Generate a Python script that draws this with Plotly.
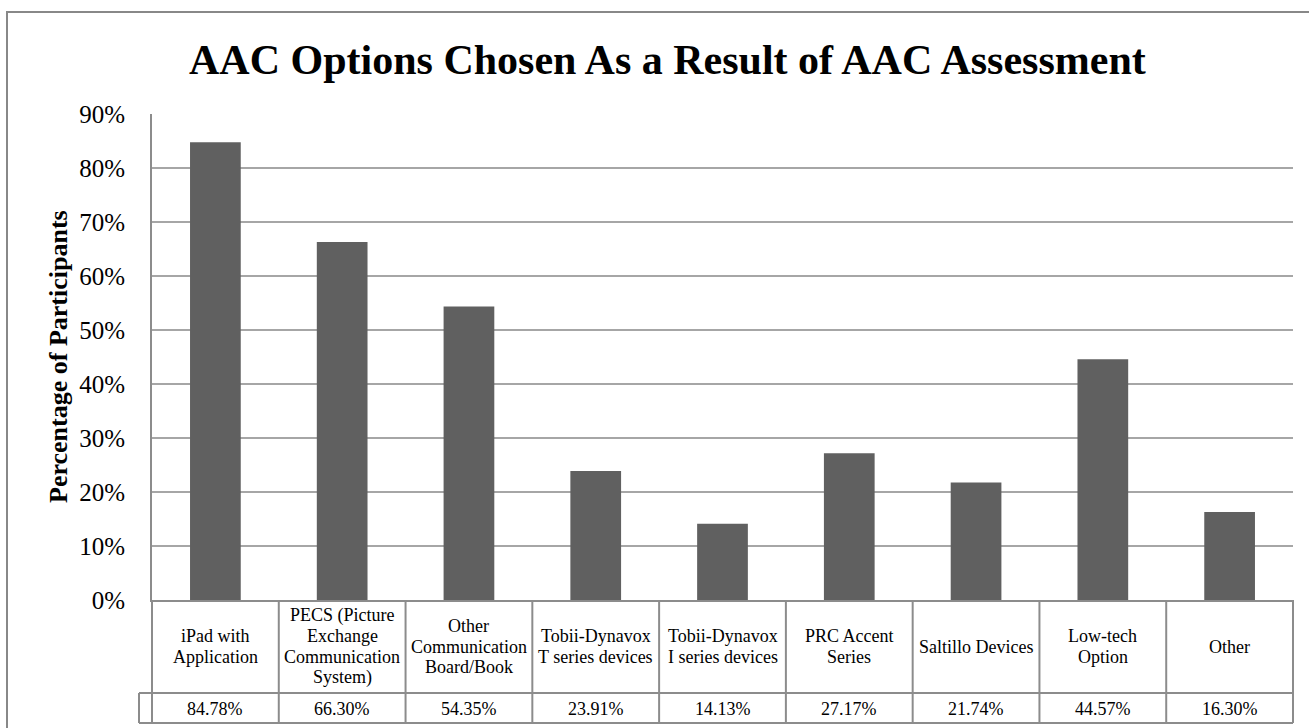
import plotly.graph_objects as go

# ---- data ----
categories = [
    "iPad with<br>Application",
    "PECS (Picture<br>Exchange<br>Communication<br>System)",
    "Other<br>Communication<br>Board/Book",
    "Tobii-Dynavox<br>T series devices",
    "Tobii-Dynavox<br>I series devices",
    "PRC Accent<br>Series",
    "Saltillo Devices",
    "Low-tech<br>Option",
    "Other",
]
values = [84.78, 66.30, 54.35, 23.91, 14.13, 27.17, 21.74, 44.57, 16.30]
title_text = "AAC Options Chosen As a Result of AAC Assessment"
y_title = "Percentage of Participants"
y_ticks = [0, 10, 20, 30, 40, 50, 60, 70, 80, 90]
y_tick_labels = [f"{t}%" for t in y_ticks]

# ---- layout geometry (pixels) ----
W, H = 1309, 728
L, R, T, B = 152, 16, 114, 128
PW, PH = W - L - R, H - T - B
FONT = "Liberation Serif, Times New Roman, serif"
GRID = "#a6a6a6"
LINE = "#8c8c8c"
TABLE_SIZE = 18
LINE_PITCH = 20.5


def px_x(p):
    return (p - L) / PW


def px_y(p):
    return (H - B - p) / PH


fig = go.Figure()
fig.add_trace(go.Bar(
    x=categories, y=values,
    marker=dict(color="#606060", line=dict(width=0)),
    width=0.4,
    hoverinfo="x+y",
))

shapes = []
annotations = []

# outer chart border
shapes.append(dict(type="rect", xref="paper", yref="paper",
                   x0=px_x(7), x1=px_x(1312), y0=px_y(731), y1=px_y(12),
                   line=dict(color="#888888", width=2), fillcolor="rgba(0,0,0,0)", layer="below"))

# data table grid
n = len(categories)
row1_bottom = px_y(693)
row2_bottom = px_y(723)
for i in range(n + 1):
    shapes.append(dict(type="line", xref="x domain", yref="paper",
                       x0=i / n, x1=i / n, y0=0, y1=row2_bottom,
                       line=dict(color=LINE, width=2)))
for yy in (row1_bottom, row2_bottom):
    shapes.append(dict(type="line", xref="paper", yref="paper",
                       x0=px_x(139), x1=1, y0=yy, y1=yy,
                       line=dict(color=LINE, width=2)))
shapes.append(dict(type="line", xref="paper", yref="paper",
                   x0=px_x(139), x1=px_x(139), y0=row1_bottom, y1=row2_bottom,
                   line=dict(color=LINE, width=2)))

for c, v in zip(categories, values):
    parts = c.split("<br>")
    m = len(parts)
    for k, part in enumerate(parts):
        yc = 646.5 + (k - (m - 1) / 2) * LINE_PITCH
        annotations.append(dict(xref="x", yref="paper", x=c, y=px_y(yc),
                                text=part, showarrow=False, yanchor="middle",
                                font=dict(family=FONT, size=TABLE_SIZE, color="black")))
    annotations.append(dict(xref="x", yref="paper", x=c, y=px_y(708.5),
                            text=f"{v:.2f}%", showarrow=False, yanchor="middle",
                            font=dict(family=FONT, size=TABLE_SIZE, color="black")))

# title
annotations.append(dict(xref="paper", yref="paper", x=px_x(667), y=px_y(60),
                        text=title_text, showarrow=False, yanchor="middle",
                        font=dict(family=FONT, size=42, color="black", weight="bold")))
# y-axis title
annotations.append(dict(xref="paper", yref="paper", x=px_x(58), y=0.5,
                        text=y_title, showarrow=False, textangle=-90,
                        xanchor="center", yanchor="middle",
                        font=dict(family=FONT, size=26, color="black", weight="bold")))

fig.update_layout(
    width=W, height=H,
    margin=dict(l=L, r=R, t=T, b=B, pad=0),
    paper_bgcolor="white", plot_bgcolor="white",
    showlegend=False,
    bargap=0.6,
    shapes=shapes,
    annotations=annotations,
    font=dict(family=FONT, color="black"),
    xaxis=dict(showticklabels=False, ticks="", showgrid=False,
               showline=True, linecolor=LINE, linewidth=2, zeroline=False,
               range=[-0.5, n - 0.5], fixedrange=True),
    yaxis=dict(range=[0, 90], tickmode="array", tickvals=y_ticks, ticktext=y_tick_labels,
               showgrid=True, gridcolor=GRID, gridwidth=2,
               showline=True, linecolor=LINE, linewidth=2, zeroline=False,
               ticks="", ticklabelstandoff=20,
               tickfont=dict(family=FONT, size=25, color="black"),
               fixedrange=True),
)

fig.write_html("out.html", config={"displayModeBar": False},
               post_script="document.body.style.margin='0px';")
